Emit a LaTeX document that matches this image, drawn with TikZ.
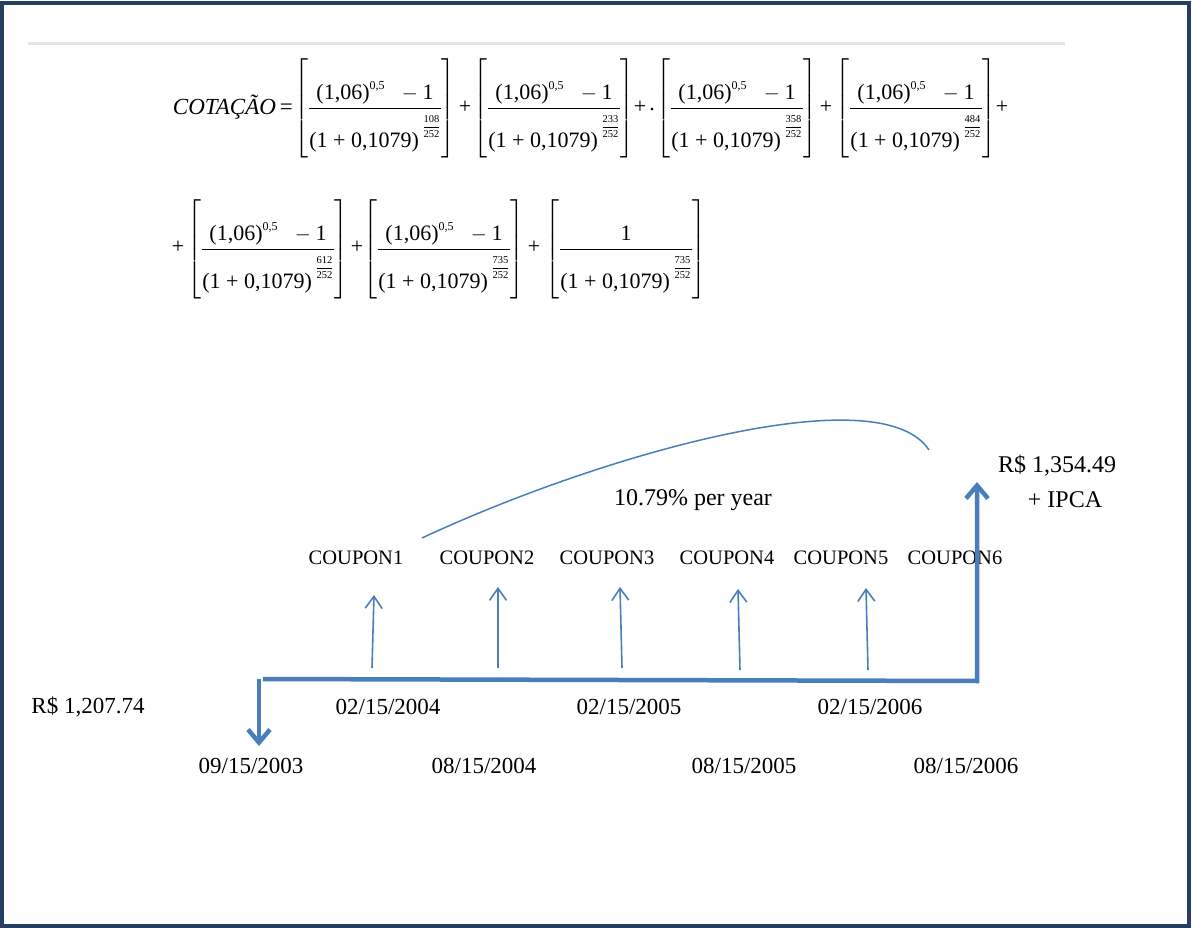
\documentclass[tikz,border=0pt]{standalone}
\usepackage{amsmath}
\usepackage{fontspec}
\setmainfont{Liberation Serif}
\usetikzlibrary{arrows.meta}
\definecolor{framec}{RGB}{36,63,96}
\definecolor{tblue}{RGB}{74,126,187}
\newcommand{\tx}[1]{\text{#1}}
\newcommand{\bnum}{\tx{(1,06)}^{\mbox{\fontsize{12}{12}\selectfont 0,5}}\hspace{0.55em}-\tx{1}}
\newcommand{\cterm}[2]{$\delimiterfactor=1000\delimitershortfall=0pt\left[\vrule height 2.35em depth 1.85em width 0pt\dfrac{#1}{\vrule height 1.65em width 0pt \tx{(1 + 0,1079)}\,\raisebox{0.8em}{\fontsize{10.5}{11}\selectfont$\genfrac{}{}{0.7pt}{0}{\text{#2}}{\text{252}}$}}\right]$}
\begin{document}
\begin{tikzpicture}[x=1pt,y=-1pt,
  term/.style={inner sep=0pt, font=\fontsize{22}{26}\selectfont},
  lbl/.style={inner sep=0pt, font=\fontsize{23}{27}\selectfont},
  cpn/.style={inner sep=0pt, font=\fontsize{20.5}{24}\selectfont},
  thinarrow/.style={draw=tblue, line width=1.6pt, -{Straight Barb[length=12pt,width=17pt]}},
  thickline/.style={draw=tblue, line width=4.5pt, line join=miter},
  thickarrow/.style={thickline, -{Straight Barb[length=13pt,width=22pt]}}]
\useasboundingbox (0,0) rectangle (1192,928);
\draw[framec, line width=4pt] (2,3) rectangle (1189,926);
\draw[gray!20, line width=3pt] (28,44) -- (1065,44);
% formula line 1
\node[term, anchor=east, font=\fontsize{23}{27}\selectfont] (cot) at (293,107) {\textit{COTAÇÃO}\,=};
\node[term] (t1) at (375,108) {\cterm{\bnum}{108}};
\node[term] (p1) at (465,107) {+};
\node[term] (t2) at (554,108) {\cterm{\bnum}{233}};
\node[term] (p2) at (640,107) {+};
\node[term] (dot) at (652,110) {.};
\node[term] (t3) at (737,108) {\cterm{\bnum}{358}};
\node[term] (p3) at (826,107) {+};
\node[term] (t4) at (916,108) {\cterm{\bnum}{484}};
\node[term] (p4) at (1002,107) {+};
% formula line 2
\node[term] (p5) at (178,247) {+};
\node[term] (t5) at (268,249) {\cterm{\bnum}{612}};
\node[term] (p6) at (357,247) {+};
\node[term] (t6) at (444,249) {\cterm{\bnum}{735}};
\node[term] (p7) at (534,247) {+};
\node[term] (t7) at (626,249) {\cterm{\tx{1}}{735}};
% rate curve
\coordinate (cs) at (422,538);
\coordinate (ce) at (929,450);
\draw[tblue, line width=1.5pt] (cs) .. controls (600,455) and (880,375) .. (ce);
\node[inner sep=0pt, font=\fontsize{24}{28}\selectfont] (rate) at (693,500) {10.79\% per year};
% coupons
\node[cpn] (cp1) at (356,558) {COUPON1};
\node[cpn] (cp2) at (487,558) {COUPON2};
\node[cpn] (cp3) at (607,558) {COUPON3};
\node[cpn] (cp4) at (727,558) {COUPON4};
\node[cpn] (cp5) at (841,558) {COUPON5};
\node[cpn] (cp6) at (955,558) {COUPON6};
% coupon arrows
\coordinate (a1b) at (372,668); \coordinate (a1t) at (374,595);
\coordinate (a2b) at (498,668); \coordinate (a2t) at (498,587);
\coordinate (a3b) at (622,668); \coordinate (a3t) at (620,587);
\coordinate (a4b) at (740,670); \coordinate (a4t) at (738,589);
\coordinate (a5b) at (868,670); \coordinate (a5t) at (866,588);
\draw[thinarrow] (a1b) -- (a1t);
\draw[thinarrow] (a2b) -- (a2t);
\draw[thinarrow] (a3b) -- (a3t);
\draw[thinarrow] (a4b) -- (a4t);
\draw[thinarrow] (a5b) -- (a5t);
% main timeline
\coordinate (ls) at (263,679);
\coordinate (lc) at (977,681);
\coordinate (le) at (977,482);
\draw[thickarrow] (ls) -- (lc) -- (le);
\coordinate (ds) at (259,679);
\coordinate (de) at (259,746);
\draw[thickarrow] (ds) -- (de);
% labels
\node[lbl] (pv) at (88,707) {R\$ 1,207.74};
\node[lbl] (d1) at (388,707) {02/15/2004};
\node[lbl] (d3) at (629,707) {02/15/2005};
\node[lbl] (d5) at (870,707) {02/15/2006};
\node[lbl] (d0) at (251,766) {09/15/2003};
\node[lbl] (d2) at (484,766) {08/15/2004};
\node[lbl] (d4) at (744,766) {08/15/2005};
\node[lbl] (d6) at (966,766) {08/15/2006};
\node[inner sep=0pt, font=\fontsize{24}{28}\selectfont] (fv1) at (1057,466) {R\$ 1,354.49};
\node[inner sep=0pt, font=\fontsize{24}{28}\selectfont] (fv2) at (1065,500) {+ IPCA};
\end{tikzpicture}
\end{document}
